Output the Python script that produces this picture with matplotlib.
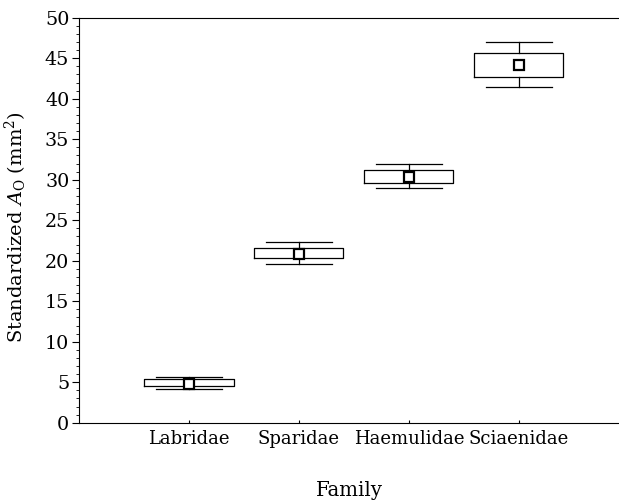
import matplotlib
matplotlib.use("Agg")
import matplotlib.pyplot as plt
from matplotlib.ticker import MultipleLocator

families = ["Labridae", "Sparidae", "Haemulidae", "Sciaenidae"]
means = [4.8, 20.8, 30.3, 44.1]
box_lo = [4.5, 20.3, 29.6, 42.7]
box_hi = [5.4, 21.6, 31.2, 45.6]
whisk_lo = [4.1, 19.6, 29.0, 41.4]
whisk_hi = [5.7, 22.3, 31.9, 47.0]

plt.rcParams["font.family"] = "DejaVu Serif"
plt.rcParams["mathtext.fontset"] = "dejavuserif"

fig = plt.figure(figsize=(6.19, 5.0), dpi=100)
ax = fig.add_axes([0.1276, 0.1546, 0.8724, 0.81])

stats = []
for i in range(len(families)):
    stats.append({
        "med": means[i], "mean": means[i],
        "q1": box_lo[i], "q3": box_hi[i],
        "whislo": whisk_lo[i], "whishi": whisk_hi[i],
        "fliers": [], "label": families[i],
    })

ax.bxp(stats, positions=[1, 2, 3, 4], widths=0.81, capwidths=0.6,
       showmeans=True, showfliers=False,
       boxprops=dict(color="black", linewidth=0.9),
       whiskerprops=dict(color="black", linewidth=0.9),
       capprops=dict(color="black", linewidth=0.9),
       medianprops=dict(linewidth=0),
       meanprops=dict(marker="s", markerfacecolor="white",
                      markeredgecolor="black", markersize=6.5,
                      markeredgewidth=1.6))

ax.set_xlim(0, 4.91)
ax.set_ylim(0, 50)
ax.yaxis.set_major_locator(MultipleLocator(5))
ax.yaxis.set_minor_locator(MultipleLocator(1))
ax.tick_params(axis="y", which="major", direction="out", length=5,
               labelsize=13.8, pad=2)
ax.tick_params(axis="y", which="minor", direction="out", length=2.5)
ax.tick_params(axis="x", direction="in", length=2, labelsize=13.0, pad=5)

ax.spines["right"].set_visible(False)

ax.set_xlabel("Family", fontsize=14.2)
ax.xaxis.set_label_coords(0.5, -0.143)
ax.set_ylabel(r"Standardized $A_\mathrm{O}$ (mm$^2$)", fontsize=14)
ax.yaxis.set_label_coords(-0.092, 0.483)

fig.savefig("out.png", dpi=100)
